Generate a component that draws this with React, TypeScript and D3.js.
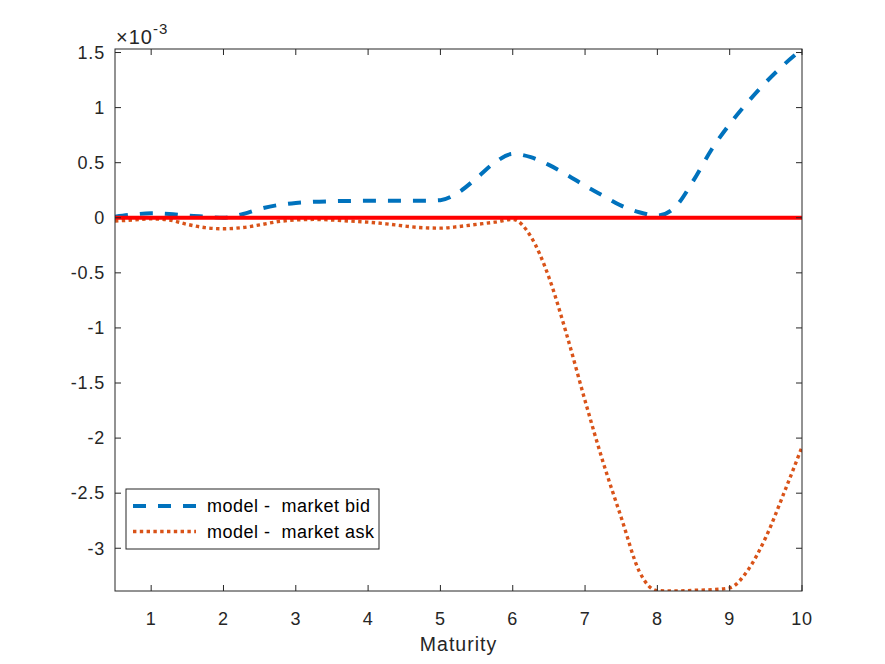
import * as d3 from 'd3';

// maturities (years) on a 0.25 grid
const maturity = [
  0.5, 0.75, 1, 1.25, 1.5, 1.75, 2, 2.25, 2.5, 2.75, 3, 3.25, 3.5, 3.75, 4, 4.25, 4.5, 4.75, 5,
  5.25, 5.5, 5.75, 6, 6.25, 6.5, 6.75, 7, 7.25, 7.5, 7.75, 8, 8.25, 8.5, 8.75, 9, 9.25, 9.5, 9.75, 10,
];

// values in units of 1e-3
const bidDiff = [
  0.01, 0.03, 0.04, 0.035, 0.02, 0.01, 0.0, 0.03, 0.08, 0.115, 0.135, 0.145, 0.15, 0.153, 0.155,
  0.155, 0.155, 0.155, 0.16, 0.23, 0.36, 0.5, 0.58, 0.55, 0.48, 0.39, 0.29, 0.2, 0.11, 0.05, 0.02,
  0.1, 0.34, 0.62, 0.85, 1.05, 1.23, 1.39, 1.53,
];
const askDiff = [
  -0.03, -0.02, -0.01, -0.02, -0.06, -0.09, -0.1, -0.09, -0.065, -0.035, -0.02, -0.015, -0.02,
  -0.03, -0.04, -0.055, -0.075, -0.09, -0.094, -0.08, -0.06, -0.04, -0.015, -0.17, -0.54, -1.07,
  -1.66, -2.22, -2.72, -3.21, -3.385, -3.388, -3.382, -3.376, -3.36, -3.2, -2.9, -2.5, -2.08,
];
const zeroLineX = [0.5, 10];

const xTicks = [1, 2, 3, 4, 5, 6, 7, 8, 9, 10];
const yTicks = [-3, -2.5, -2, -1.5, -1, -0.5, 0, 0.5, 1, 1.5];

const legendLabels = ['model -  market bid', 'model -  market ask'];

const W = 885;
const H = 664;
const margin = { top: 49, right: 83, bottom: 73, left: 115 };
const font = '"Liberation Sans", Arial, sans-serif';
const axisColor = '#262626';

export default function App() {
  const innerW = W - margin.left - margin.right;
  const innerH = H - margin.top - margin.bottom;

  const x = d3.scaleLinear().domain([0.5, 10]).range([0, innerW]);
  const y = d3.scaleLinear().domain([-3.388, 1.532]).range([innerH, 0]);

  const line = d3
    .line<number>()
    .x((_, i) => x(maturity[i]))
    .y((d) => y(d))
    .curve(d3.curveMonotoneX);

  const tickLen = 6;

  return (
    <svg
      width={W}
      height={H}
      style={{ position: 'absolute', left: 0, top: 0, background: '#fff' }}
      fontFamily={font}
    >
      <defs>
        <clipPath id="plot">
          <rect x={0} y={0} width={innerW} height={innerH} />
        </clipPath>
      </defs>
      <g transform={`translate(${margin.left},${margin.top})`}>
        <rect x={0} y={0} width={innerW} height={innerH} fill="#fff" />

        <g clipPath="url(#plot)">
          <path
            d={line(bidDiff) || ''}
            fill="none"
            stroke="#0072BD"
            strokeWidth={4}
            strokeDasharray="13 12"
          />
          <path
            d={line(askDiff) || ''}
            fill="none"
            stroke="#D95319"
            strokeWidth={3.4}
            strokeDasharray="3.4 3.4"
          />
          <line
            x1={x(zeroLineX[0])}
            x2={x(zeroLineX[1])}
            y1={y(0)}
            y2={y(0)}
            stroke="#FF0000"
            strokeWidth={4}
          />
        </g>

        {/* box */}
        <rect x={0} y={0} width={innerW} height={innerH} fill="none" stroke={axisColor} strokeWidth={1} />

        {/* x ticks */}
        {xTicks.map((t) => (
          <g key={`x${t}`}>
            <line x1={x(t)} x2={x(t)} y1={innerH} y2={innerH - tickLen} stroke={axisColor} />
            <line x1={x(t)} x2={x(t)} y1={0} y2={tickLen} stroke={axisColor} />
            <text
              x={x(t)}
              y={innerH + 34}
              textAnchor="middle"
              fontSize={18}
              letterSpacing={0.8}
              fill={axisColor}
            >
              {t}
            </text>
          </g>
        ))}

        {/* y ticks */}
        {yTicks.map((t) => (
          <g key={`y${t}`}>
            <line x1={0} x2={tickLen} y1={y(t)} y2={y(t)} stroke={axisColor} />
            <line x1={innerW} x2={innerW - tickLen} y1={y(t)} y2={y(t)} stroke={axisColor} />
            <text
              x={-10}
              y={y(t)}
              dy="0.35em"
              textAnchor="end"
              fontSize={18}
              letterSpacing={0.8}
              fill={axisColor}
            >
              {String(t)}
            </text>
          </g>
        ))}

        {/* exponent */}
        <text x={1} y={-5.5} fontSize={20} fill={axisColor} letterSpacing={1}>
          ×10
          <tspan fontSize={15} dy={-10}>-3</tspan>
        </text>

        {/* x label */}
        <text
          x={innerW / 2}
          y={innerH + 60}
          textAnchor="middle"
          fontSize={19.5}
          letterSpacing={1}
          fill={axisColor}
        >
          Maturity
        </text>

        {/* legend */}
        <g transform={`translate(${126 - margin.left},${489 - margin.top})`}>
          <rect x={0} y={0} width={253} height={60} fill="#fff" stroke={axisColor} strokeWidth={1} />
          <line x1={7} x2={70} y1={17} y2={17} stroke="#0072BD" strokeWidth={4} strokeDasharray="13 12" />
          <line x1={7} x2={70} y1={42.5} y2={42.5} stroke="#D95319" strokeWidth={3.4} strokeDasharray="3.4 3.4" />
          {legendLabels.map((label, i) => (
            <text
              key={label}
              x={81}
              y={17 + i * 25.5}
              dy="0.35em"
              fontSize={18}
              letterSpacing={0.5}
              fill="#000"
              style={{ whiteSpace: 'pre' }}
            >
              {label}
            </text>
          ))}
        </g>
      </g>
    </svg>
  );
}
